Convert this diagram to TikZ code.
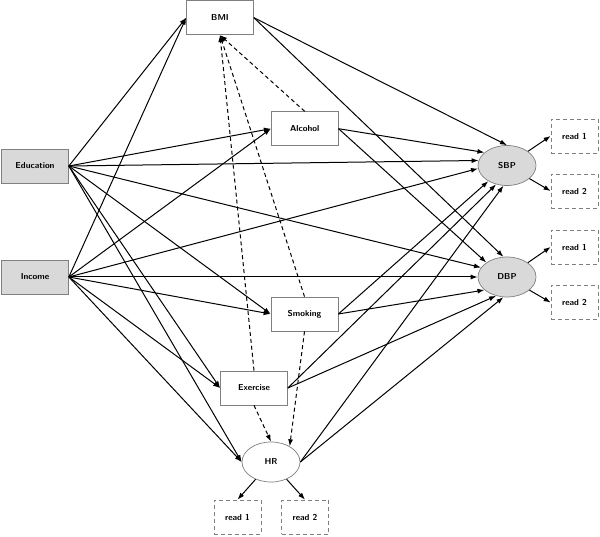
\documentclass[tikz,border=0pt]{standalone}
\usetikzlibrary{shapes.geometric,arrows.meta}
\begin{document}
\begin{tikzpicture}[x=1pt,y=-1pt,
  lbl/.style={font=\sffamily\bfseries\fontsize{8.6}{10}\selectfont},
  box/.style={lbl, rectangle, draw=black!50, fill=white, line width=0.7pt, minimum width=67pt, minimum height=34pt, inner sep=0pt},
  exo/.style={box, fill=black!15},
  lat/.style={lbl, ellipse, draw=black!50, fill=white, line width=0.7pt, minimum width=58pt, minimum height=40pt, inner sep=0pt},
  latg/.style={lat, fill=black!15},
  ind/.style={lbl, rectangle, draw=black!50, line width=0.7pt, dash pattern=on 4pt off 3pt, minimum width=47pt, minimum height=34pt, inner sep=0pt},
  arr/.style={-{Latex[length=7pt,width=5pt]}, line width=1pt, black},
  darr/.style={arr, dash pattern=on 4pt off 3pt}
]
\useasboundingbox (0,0) rectangle (600,537);
% nodes
\node[box] (bmi) at (220,17.7) {BMI};
\node[box] (alc) at (304.7,128.7) {Alcohol};
\node[exo] (edu) at (35,166) {Education};
\node[exo] (inc) at (35,277) {Income};
\node[box] (smk) at (304.5,314) {Smoking};
\node[box] (exe) at (254,388) {Exercise};
\node[lat] (hr) at (271,462) {HR};
\node[ind] (h1) at (237.5,517) {read 1};
\node[ind] (h2) at (305,517) {read 2};
\node[latg] (sbp) at (507,165.5) {SBP};
\node[latg] (dbp) at (507,277) {DBP};
\node[ind] (s1) at (574.5,136) {read 1};
\node[ind] (s2) at (574.5,191) {read 2};
\node[ind] (d1) at (574.5,247) {read 1};
\node[ind] (d2) at (574.5,302.5) {read 2};
% Education
\draw[arr] (edu.east) -- (bmi.west);
\draw[arr] (edu.east) -- (alc.west);
\draw[arr] (edu.east) -- (sbp.170);
\draw[arr] (edu.east) -- (dbp.160);
\draw[arr] (edu.east) -- (smk.west);
\draw[arr] (edu.east) -- (exe.west);
\draw[arr] (edu.east) -- (hr.west);
% Income
\draw[arr] (inc.east) -- (bmi.west);
\draw[arr] (inc.east) -- (alc.west);
\draw[arr] (inc.east) -- (sbp.186);
\draw[arr] (inc.east) -- (dbp.west);
\draw[arr] (inc.east) -- (smk.west);
\draw[arr] (inc.east) -- (exe.west);
\draw[arr] (inc.east) -- (hr.west);
% mediators to outcomes
\draw[arr] (bmi.east) -- (sbp.north);
\draw[arr] (bmi.east) -- (dbp.100);
\draw[arr] (alc.east) -- (sbp.150);
\draw[arr] (alc.east) -- (dbp.145);
\draw[arr] (smk.east) -- (sbp.220);
\draw[arr] (smk.east) -- (dbp.210);
\draw[arr] (exe.east) -- (sbp.240);
\draw[arr] (exe.east) -- (dbp.240);
\draw[arr] (hr.east) -- (sbp.260);
\draw[arr] (hr.east) -- (dbp.260);
% dashed
\draw[darr] (alc.north) -- (bmi.south);
\draw[darr] (smk.north) -- (bmi.south);
\draw[darr] (exe.north) -- (bmi.south);
\draw[darr] (exe.south) -- (hr.north);
\draw[darr] (smk.south) -- (hr.40);
% indicators
\draw[arr] (sbp) -- (s1.west);
\draw[arr] (sbp) -- (s2.west);
\draw[arr] (dbp) -- (d1.west);
\draw[arr] (dbp) -- (d2.west);
\draw[arr] (hr) -- (h1.north);
\draw[arr] (hr) -- (h2.north);
\end{tikzpicture}
\end{document}
